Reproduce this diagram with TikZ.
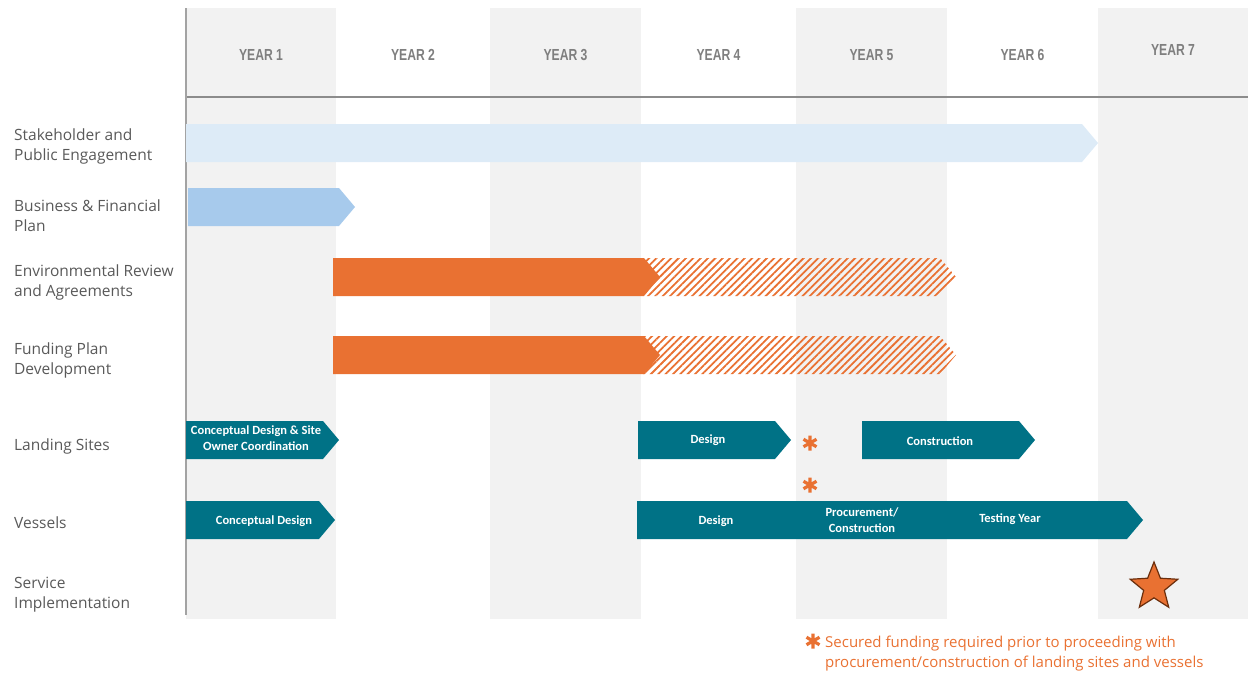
\documentclass[tikz,border=0pt]{standalone}
\usepackage{fontspec}
\setmainfont{Open Sans}
\newfontfamily\barfont{Carlito}
\newfontfamily\yearfont[FakeStretch=0.76]{Liberation Sans}
\usetikzlibrary{patterns.meta,shapes.geometric}
\definecolor{ColGrey}{HTML}{F2F2F2}
\definecolor{AxisGrey}{HTML}{8C8C8C}
\definecolor{YearGrey}{HTML}{7F7F7F}
\definecolor{LabelGrey}{HTML}{595959}
\definecolor{PaleBlue}{HTML}{DDEBF7}
\definecolor{MidBlue}{HTML}{A7CAEC}
\definecolor{PlanOrange}{HTML}{E97132}
\definecolor{PlanTeal}{HTML}{007286}
\definecolor{StarEdge}{HTML}{6B2E0C}

% chevron bar: [style]{x start}{x tip}{y centre}
\newcommand\taskbar[4][]{%
  \path[#1] (#2,{#4-19}) -- ({#3-16},{#4-19}) -- (#3,#4) -- ({#3-16},{#4+19}) -- (#2,{#4+19}) -- cycle;}

\begin{document}
\begin{tikzpicture}[x=1pt,y=-1pt,
  yearlbl/.style={font=\yearfont\bfseries\fontsize{16}{16}\selectfont, text=YearGrey},
  rowlbl/.style={anchor=west, align=left, inner sep=0pt, font=\fontsize{15.5}{20}\selectfont, text=LabelGrey},
  bartxt/.style={font=\barfont\bfseries\fontsize{12.5}{16}\selectfont, text=white, align=center, inner sep=0pt},
  fundmark/.pic={\draw[PlanOrange, line width=3.2pt] (-90:7.5) -- (90:7.5) (30:7.5) -- (210:7.5) (150:7.5) -- (-30:7.5);}]
  \useasboundingbox (0,0) rectangle (1255,672);

  % year columns
  \foreach \yr/\xa/\xb/\ly in {1/186/336/55, 2/336/490/55, 3/490/641/55, 4/641/796/55, 5/796/947/55, 6/947/1098/55, 7/1098/1248/50} {
    \ifodd\yr \fill[ColGrey] (\xa,8) rectangle (\xb,619); \fi
    \node[yearlbl] (year\yr) at ({(\xa+\xb)/2}, \ly) {YEAR \yr};
  }
  \draw[AxisGrey, line width=1.4pt] (186,97) -- (1248,97);
  \draw[AxisGrey!80, line width=1.4pt] (186,8) -- (186,615);

  % row labels
  \node[rowlbl] (stake) at (14,146) {Stakeholder and\\Public Engagement};
  \node[rowlbl] (business) at (14,216) {Business \& Financial\\Plan};
  \node[rowlbl] (enviro) at (14,282) {Environmental Review\\and Agreements};
  \node[rowlbl] (funding) at (14,360) {Funding Plan\\Development};
  \node[rowlbl] (landing) at (14,446) {Landing Sites};
  \node[rowlbl] (vessels) at (14,523) {Vessels};
  \node[rowlbl] (service) at (14,595) {Service\\Implementation};

  % bars
  \taskbar[fill=PaleBlue]{186}{1098}{143}
  \taskbar[fill=MidBlue]{188}{355}{207}
  \taskbar[pattern={Lines[angle=45,distance=5.2pt,line width=1.8pt]}, pattern color=PlanOrange]{643}{956}{277}
  \taskbar[fill=PlanOrange]{333}{660}{277}
  \taskbar[pattern={Lines[angle=45,distance=5.2pt,line width=1.8pt]}, pattern color=PlanOrange]{643}{956}{355}
  \taskbar[fill=PlanOrange]{333}{660}{355}
  \taskbar[fill=PlanTeal]{186}{339}{440}
  \taskbar[fill=PlanTeal]{638}{791}{440}
  \taskbar[fill=PlanTeal]{862}{1035}{440}
  \taskbar[fill=PlanTeal]{186}{335}{520}
  \taskbar[fill=PlanTeal]{637}{1143}{520}

  % bar texts
  \node[bartxt] (ls1) at (256,438) {Conceptual Design \& Site\\Owner Coordination};
  \node[bartxt] (ls2) at (708,440) {Design};
  \node[bartxt] (ls3) at (940,441) {Construction};
  \node[bartxt] (vs1) at (264,521) {Conceptual Design};
  \node[bartxt] (vs2) at (716,521) {Design};
  \node[bartxt] (vs3) at (862,520) {Procurement/\\Construction};
  \node[bartxt] (vs4) at (1010,519) {Testing Year};

  % funding marks
  \pic at (810,443) {fundmark};
  \pic at (810,485) {fundmark};

  % service start
  \node[star, star points=5, star point ratio=2.3, minimum size=50pt, inner sep=0pt,
        fill=PlanOrange, draw=StarEdge, line width=1.2pt] (launch) at (1154,587) {};

  % footnote
  \pic at (813,641) {fundmark};
  \node[rowlbl, font=\fontsize{15}{20}\selectfont, text=PlanOrange] (note) at (825,654) {Secured funding required prior to proceeding with\\procurement/construction of landing sites and vessels};
\end{tikzpicture}
\end{document}
